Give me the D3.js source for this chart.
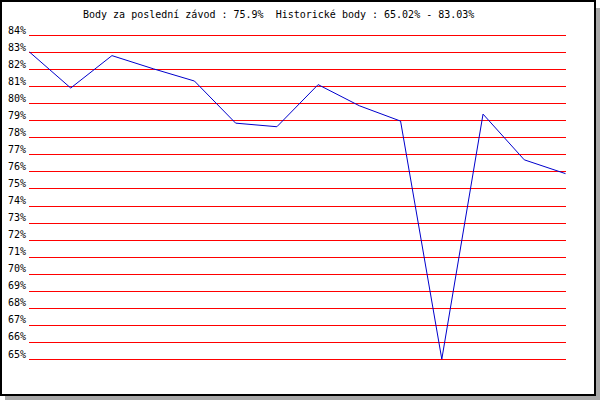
<!DOCTYPE html>
<html>
<head>
<meta charset="utf-8">
<script src="https://cdn.jsdelivr.net/npm/d3@7"></script>
<style>
  html, body { margin: 0; padding: 0; background: #fff; }
  svg { display: block; }
  text { font-family: "DejaVu Sans Mono", "Liberation Mono", monospace; font-size: 10px; fill: #000; white-space: pre; }
</style>
</head>
<body>
<svg id="chart" width="600" height="400"></svg>
<script>
// ---- data ----
const titleText = "Body za poslední závod : 75.9%  Historické body : 65.02% - 83.03%";
const races = d3.range(1, 15);
const points = [83.03, 80.92, 82.82, 82.05, 81.33, 78.86, 78.65, 81.12, 79.88, 78.98, 65.02, 79.39, 76.71, 75.9];
const yTicks = d3.range(65, 85);

// ---- drawing ----
const svg = d3.select("#chart");

// shadow + frame
svg.append("rect").attr("x", 5).attr("y", 8).attr("width", 595).attr("height", 392).attr("fill", "#a8a8a8");
svg.append("rect").attr("x", 1).attr("y", 1).attr("width", 594).attr("height", 394)
  .attr("fill", "#fff").attr("stroke", "#000").attr("stroke-width", 2);

const x = d3.scalePoint().domain(races).range([29.5, 565.5]);
const y = d3.scaleLinear().domain([65, 84]).range([359.5, 35.5]);

// grid lines
svg.append("g").selectAll("line").data(yTicks).join("line")
  .attr("x1", 29).attr("x2", 566)
  .attr("y1", d => y(d)).attr("y2", d => y(d))
  .attr("stroke", "#ff0000").attr("stroke-width", 1)
  .attr("shape-rendering", "crispEdges");

// y labels
const yAxis = svg.append("g").attr("transform", "translate(29,0)")
  .call(d3.axisLeft(y).tickValues(yTicks).tickSize(0).tickPadding(3).tickFormat(d => d + "%"));
yAxis.select(".domain").remove();
yAxis.selectAll("text")
  .attr("dy", null).attr("y", -2.5)
  .attr("font-family", "DejaVu Sans Mono, monospace").attr("font-size", 10).attr("fill", "#000");

// data line
const line = d3.line().x((d, i) => x(races[i])).y(d => y(d));
svg.append("path").datum(points)
  .attr("d", line)
  .attr("fill", "none").attr("stroke", "#0000cc").attr("stroke-width", 1);

// title
svg.append("text").attr("x", 83).attr("y", 17.5)
  .attr("xml:space", "preserve").text(titleText);
</script>
</body>
</html>
